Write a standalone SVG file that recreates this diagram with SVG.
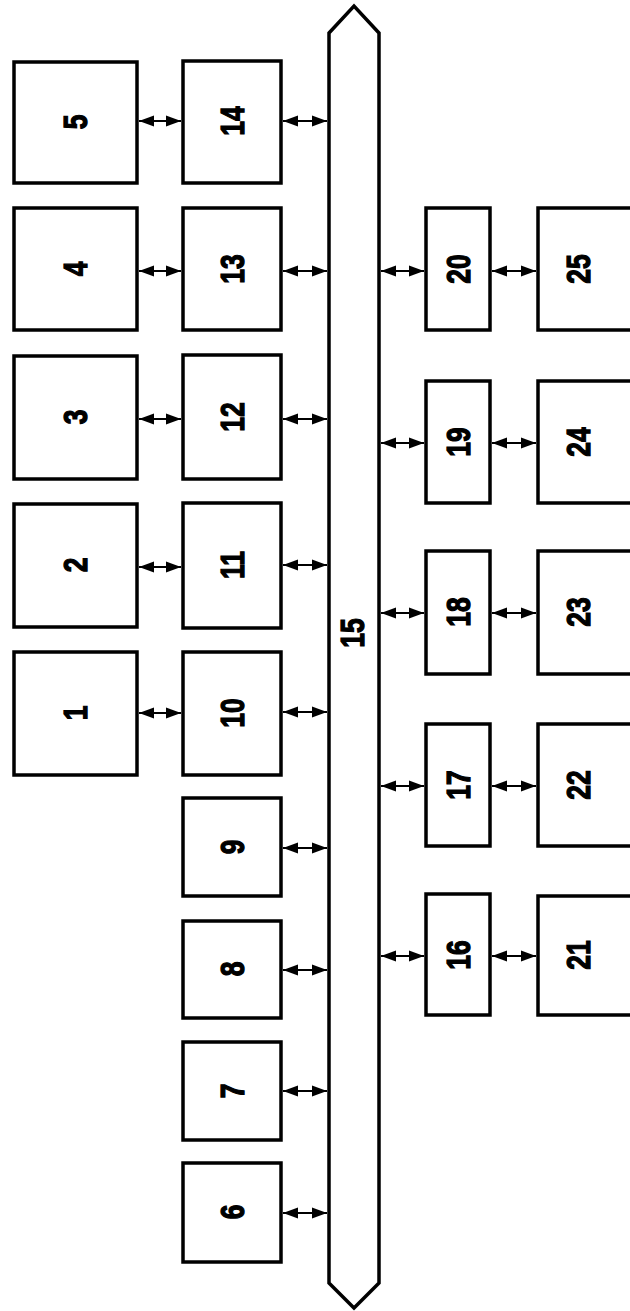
<svg xmlns="http://www.w3.org/2000/svg" width="630" height="1311" viewBox="0 0 630 1311">
<defs>
<style>
.box{fill:#fff;stroke:#000;stroke-width:3.5}
.bus{fill:#fff;stroke:#000;stroke-width:3.5;stroke-linejoin:miter}
.lbl{font-family:"Liberation Sans",Arial,sans-serif;font-weight:bold;font-size:33px;text-anchor:middle;fill:#000;stroke:#000;stroke-width:1.3}
.arr{stroke:#000;stroke-width:2.2;fill:none;marker-start:url(#ah);marker-end:url(#ah)}
</style>
<marker id="ah" markerUnits="userSpaceOnUse" markerWidth="16" markerHeight="12" refX="15" refY="6" orient="auto-start-reverse">
<path d="M0,0.5 L15,6 L0,11.5 Z" fill="#000"/>
</marker>
</defs>
<rect width="630" height="1311" fill="#fff"/>

<g id="connectors">
<line class="arr" x1="139" y1="121" x2="181" y2="121"/>
<line class="arr" x1="283" y1="121" x2="327" y2="121"/>
<line class="arr" x1="139" y1="271" x2="181" y2="271"/>
<line class="arr" x1="283" y1="271" x2="327" y2="271"/>
<line class="arr" x1="381" y1="271" x2="424" y2="271"/>
<line class="arr" x1="492" y1="271" x2="536" y2="271"/>
<line class="arr" x1="139" y1="419" x2="181" y2="419"/>
<line class="arr" x1="283" y1="419" x2="327" y2="419"/>
<line class="arr" x1="381" y1="443" x2="424" y2="443"/>
<line class="arr" x1="492" y1="443" x2="536" y2="443"/>
<line class="arr" x1="139" y1="567" x2="181" y2="567"/>
<line class="arr" x1="283" y1="565" x2="327" y2="565"/>
<line class="arr" x1="381" y1="613" x2="424" y2="613"/>
<line class="arr" x1="492" y1="613" x2="536" y2="613"/>
<line class="arr" x1="139" y1="713" x2="181" y2="713"/>
<line class="arr" x1="283" y1="712" x2="327" y2="712"/>
<line class="arr" x1="381" y1="786" x2="424" y2="786"/>
<line class="arr" x1="492" y1="786" x2="536" y2="786"/>
<line class="arr" x1="283" y1="848" x2="327" y2="848"/>
<line class="arr" x1="381" y1="956" x2="424" y2="956"/>
<line class="arr" x1="492" y1="956" x2="536" y2="956"/>
<line class="arr" x1="283" y1="970" x2="327" y2="970"/>
<line class="arr" x1="283" y1="1091" x2="327" y2="1091"/>
<line class="arr" x1="283" y1="1213" x2="327" y2="1213"/>
</g>

<g id="n15">
<path class="bus" d="M329,33 L354,6 L379,33 L379,1283 L354,1308 L329,1283 Z"/>
<text class="lbl" transform="translate(352,633) rotate(-90) scale(0.8,1)" y="11.8">15</text>
</g>

<g id="n5"><rect class="box" x="14" y="62" width="123" height="121"/><text class="lbl" transform="translate(75.5,122) rotate(-90) scale(0.8,1)" y="11.8">5</text></g>
<g id="n4"><rect class="box" x="14" y="208" width="123" height="122"/><text class="lbl" transform="translate(75.5,269) rotate(-90) scale(0.8,1)" y="11.8">4</text></g>
<g id="n3"><rect class="box" x="14" y="356" width="123" height="123"/><text class="lbl" transform="translate(75.5,417) rotate(-90) scale(0.8,1)" y="11.8">3</text></g>
<g id="n2"><rect class="box" x="14" y="504" width="123" height="123"/><text class="lbl" transform="translate(75.5,565) rotate(-90) scale(0.8,1)" y="11.8">2</text></g>
<g id="n1"><rect class="box" x="14" y="652" width="123" height="123"/><text class="lbl" transform="translate(75.5,713) rotate(-90) scale(0.8,1)" y="11.8">1</text></g>

<g id="n14"><rect class="box" x="183" y="61" width="98" height="122"/><text class="lbl" transform="translate(232,121) rotate(-90) scale(0.8,1)" y="11.8">14</text></g>
<g id="n13"><rect class="box" x="183" y="208" width="98" height="122"/><text class="lbl" transform="translate(232,269) rotate(-90) scale(0.8,1)" y="11.8">13</text></g>
<g id="n12"><rect class="box" x="183" y="355" width="98" height="124"/><text class="lbl" transform="translate(232,417) rotate(-90) scale(0.8,1)" y="11.8">12</text></g>
<g id="n11"><rect class="box" x="183" y="503" width="98" height="125"/><text class="lbl" transform="translate(232,565) rotate(-90) scale(0.8,1)" y="11.8">11</text></g>
<g id="n10"><rect class="box" x="183" y="652" width="98" height="123"/><text class="lbl" transform="translate(232,713) rotate(-90) scale(0.8,1)" y="11.8">10</text></g>
<g id="n9"><rect class="box" x="183" y="798" width="98" height="98"/><text class="lbl" transform="translate(232,847) rotate(-90) scale(0.8,1)" y="11.8">9</text></g>
<g id="n8"><rect class="box" x="183" y="921" width="98" height="97"/><text class="lbl" transform="translate(232,969) rotate(-90) scale(0.8,1)" y="11.8">8</text></g>
<g id="n7"><rect class="box" x="183" y="1042" width="98" height="98"/><text class="lbl" transform="translate(232,1091) rotate(-90) scale(0.8,1)" y="11.8">7</text></g>
<g id="n6"><rect class="box" x="183" y="1163" width="98" height="99"/><text class="lbl" transform="translate(232,1212) rotate(-90) scale(0.8,1)" y="11.8">6</text></g>

<g id="n20"><rect class="box" x="426" y="208" width="64" height="122"/><text class="lbl" transform="translate(458,269) rotate(-90) scale(0.8,1)" y="11.8">20</text></g>
<g id="n19"><rect class="box" x="426" y="381" width="64" height="122"/><text class="lbl" transform="translate(458,442) rotate(-90) scale(0.8,1)" y="11.8">19</text></g>
<g id="n18"><rect class="box" x="426" y="551" width="64" height="123"/><text class="lbl" transform="translate(458,612) rotate(-90) scale(0.8,1)" y="11.8">18</text></g>
<g id="n17"><rect class="box" x="426" y="724" width="64" height="122"/><text class="lbl" transform="translate(458,785) rotate(-90) scale(0.8,1)" y="11.8">17</text></g>
<g id="n16"><rect class="box" x="426" y="894" width="64" height="121"/><text class="lbl" transform="translate(458,955) rotate(-90) scale(0.8,1)" y="11.8">16</text></g>

<g id="n25"><rect class="box" x="538" y="208" width="100" height="122"/><text class="lbl" transform="translate(578,269) rotate(-90) scale(0.8,1)" y="11.8">25</text></g>
<g id="n24"><rect class="box" x="538" y="381" width="100" height="122"/><text class="lbl" transform="translate(578,442) rotate(-90) scale(0.8,1)" y="11.8">24</text></g>
<g id="n23"><rect class="box" x="538" y="551" width="100" height="123"/><text class="lbl" transform="translate(578,612) rotate(-90) scale(0.8,1)" y="11.8">23</text></g>
<g id="n22"><rect class="box" x="538" y="724" width="100" height="122"/><text class="lbl" transform="translate(578,785) rotate(-90) scale(0.8,1)" y="11.8">22</text></g>
<g id="n21"><rect class="box" x="538" y="896" width="100" height="119"/><text class="lbl" transform="translate(578,955) rotate(-90) scale(0.8,1)" y="11.8">21</text></g>
</svg>
